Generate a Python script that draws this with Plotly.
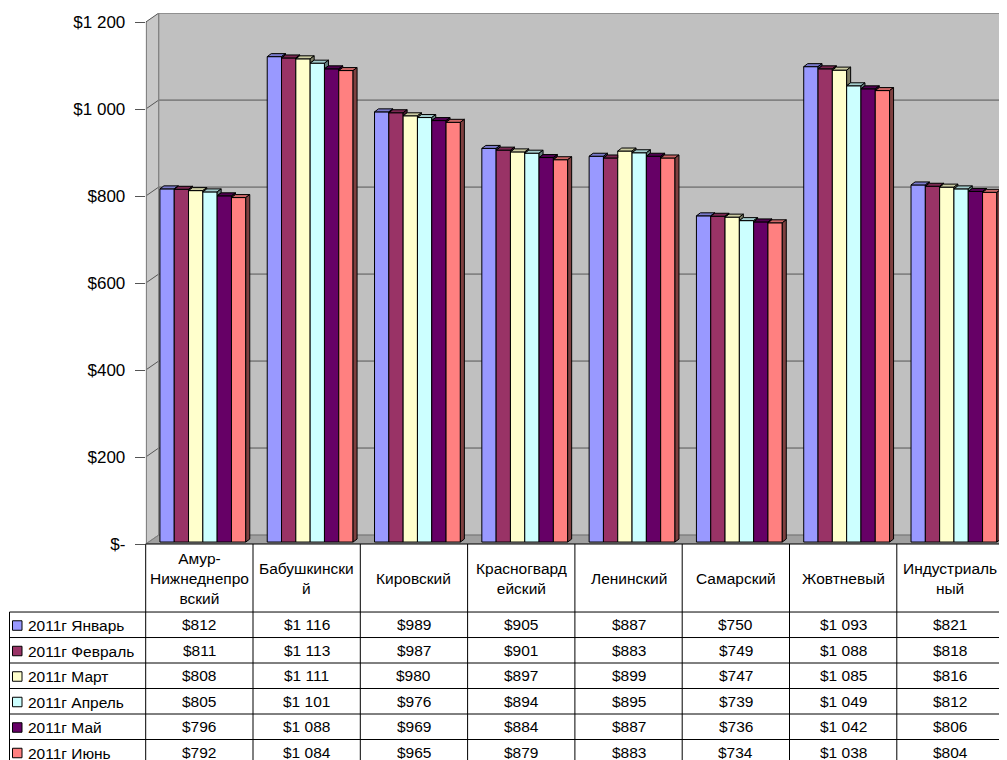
import plotly.graph_objects as go

# ---------------- data ----------------
categories = ["Амур-Нижнеднепровский", "Бабушкинский", "Кировский", "Красногвардейский",
              "Ленинский", "Самарский", "Жовтневый", "Индустриальный"]
header_labels = ["Амур-<br>Нижнеднепро<br>вский", "Бабушкински<br>й", "Кировский",
                 "Красногвард<br>ейский", "Ленинский", "Самарский", "Жовтневый",
                 "Индустриаль<br>ный"]
series_names = ["2011г Январь", "2011г Февраль", "2011г Март",
                "2011г Апрель", "2011г Май", "2011г Июнь"]
jan = [812, 1116, 989, 905, 887, 750, 1093, 821]
feb = [811, 1113, 987, 901, 883, 749, 1088, 818]
mar = [808, 1111, 980, 897, 899, 747, 1085, 816]
apr = [805, 1101, 976, 894, 895, 739, 1049, 812]
may = [796, 1088, 969, 884, 887, 736, 1042, 806]
jun = [792, 1084, 965, 879, 883, 734, 1038, 804]
series_values = [jan, feb, mar, apr, may, jun]
tick_values = [0, 200, 400, 600, 800, 1000, 1200]
tick_labels = ["$-", "$200", "$400", "$600", "$800", "$1 000", "$1 200"]
front_colors = ["#9999FF", "#993366", "#FFFFCC", "#CCFFFF", "#660066", "#FF8080"]

# ---------------- geometry (target picture pixels) ----------------
PAGE_W, PAGE_H = 1007, 760
OFF = 8                         # default body margin of the html page
KY = 760.0 / 770.0              # observed vertical capture scale
W = PAGE_W - OFF
H = int(round(PAGE_H / KY - OFF))
X0, CW = 145.7, 107.3           # front-left edge, category width
Y0, YTOP = 544.0, 13.0          # floor front, wall top
PPU = (Y0 - 22.0) / 1200.0      # px per value unit
FONT = "Liberation Sans, Arial, sans-serif"


def ux(px):
    return px / CW


def uy(px):
    return px / PPU


def PX(px):
    return (px - OFF) / W


def PY(py):
    return 1 - (py / KY - OFF) / H


x_lo, x_hi = -0.5, -0.5 + ux(PAGE_W - X0)
y_lo, y_hi = 0.0, uy(Y0 - YTOP)
DXW, DYW = ux(13), uy(9)       # wall depth
DX0, DY0 = ux(3.5), uy(2)      # bar front offset
DXB, DYB = ux(4), uy(3)        # bar depth
BW = 0.8 / len(series_values)


def shade(hexc, f):
    r, g, b = int(hexc[1:3], 16), int(hexc[3:5], 16), int(hexc[5:7], 16)
    return f"rgb({int(r * f)},{int(g * f)},{int(b * f)})"


def money(v):
    return "$" + f"{v:,}".replace(",", " ")


fig = go.Figure()

ns = len(series_values)
# front faces
for s in range(ns):
    xs = [c + DX0 + (s - (ns - 1) / 2) * BW for c in range(len(categories))]
    fig.add_trace(go.Bar(
        x=xs, y=series_values[s], base=DY0, width=BW, name=series_names[s],
        marker=dict(color=front_colors[s], line=dict(color="black", width=1)),
        showlegend=False,
        customdata=categories,
        hovertemplate="%{customdata}<br>" + series_names[s] + ": $%{y}<extra></extra>",
    ))

# top and side faces
for s in range(ns):
    tx, ty, sx, sy = [], [], [], []
    for c in range(len(categories)):
        xc = c + DX0 + (s - (ns - 1) / 2) * BW
        x0, x1 = xc - BW / 2, xc + BW / 2
        v = series_values[s][c]
        top = DY0 + v
        nxt = series_values[s + 1][c] if s < ns - 1 else None
        if nxt is not None and nxt > v:
            px_ = [x0, x1, x1, x0 + DXB, x0]
        else:
            px_ = [x0, x1, x1 + DXB, x0 + DXB, x0]
        py_ = [top, top, top + DYB, top + DYB, top]
        tx += px_ + [None]
        ty += py_ + [None]
        if nxt is None:
            sx += [x1, x1, x1 + DXB, x1 + DXB, x1, None]
            sy += [DY0, top, top + DYB, DY0 + DYB, DY0, None]
        elif nxt < v:
            tn = DY0 + nxt
            sx += [x1, x1, x1 + DXB, x1 + DXB, x1, None]
            sy += [tn, top, top + DYB, tn + DYB, tn, None]
    fig.add_trace(go.Scatter(x=tx, y=ty, mode="lines", fill="toself",
                             fillcolor=shade(front_colors[s], 0.8),
                             line=dict(color="black", width=1),
                             hoverinfo="skip", showlegend=False))
    if sx:
        fig.add_trace(go.Scatter(x=sx, y=sy, mode="lines", fill="toself",
                                 fillcolor=shade(front_colors[s], 0.5),
                                 line=dict(color="black", width=1),
                                 hoverinfo="skip", showlegend=False))

shapes = []
WALL = "#C0C0C0"
EDGE = "#808080"
GRID = "#555555"
# back wall
shapes.append(dict(type="rect", xref="x", yref="y", x0=-0.5 + DXW, x1=x_hi, y0=DYW, y1=y_hi,
                   fillcolor=WALL, line=dict(width=0), layer="below"))
# left wall
shapes.append(dict(type="path", xref="x", yref="y",
                   path=f"M{-0.5},{0} L{-0.5},{tick_values[-1]} L{-0.5 + DXW},{y_hi} L{-0.5 + DXW},{DYW} Z",
                   fillcolor="#C8C8C8", line=dict(width=0), layer="below"))
# floor
shapes.append(dict(type="path", xref="x", yref="y",
                   path=f"M{-0.5},{0} L{-0.5 + DXW},{DYW} L{x_hi + 1},{DYW} L{x_hi + 1},{0} Z",
                   fillcolor="#A0A0A0", line=dict(color=EDGE, width=1), layer="below"))
# gridlines and diagonals
for v in tick_values:
    col = GRID if 0 < v < tick_values[-1] else EDGE
    shapes.append(dict(type="line", xref="x", yref="y", x0=-0.5 + DXW, x1=x_hi,
                       y0=v + DYW, y1=v + DYW,
                       line=dict(color=col, width=1.3 if v == tick_values[-1] else 1),
                       layer="below"))
    shapes.append(dict(type="line", xref="x", yref="y", x0=-0.5, x1=-0.5 + DXW,
                       y0=v, y1=v + DYW, line=dict(color=GRID if v else EDGE, width=1), layer="below"))
# wall edges
shapes.append(dict(type="line", xref="x", yref="y", x0=-0.5 + DXW, x1=-0.5 + DXW,
                   y0=DYW, y1=y_hi, line=dict(color=EDGE, width=1.3), layer="below"))
shapes.append(dict(type="line", xref="x", yref="y", x0=-0.5 + ux(0.6), x1=-0.5 + ux(0.6),
                   y0=0, y1=tick_values[-1], line=dict(color=EDGE, width=1.3), layer="below"))

# ---------------- data table ----------------
HDR_TOP, HDR_BOT, ROW_H = 544.0, 612.0, 25.5
LEG_L = 9.5
ncol = len(categories)
right = X0 + ncol * CW
TBL = "black"
shapes.append(dict(type="line", xref="paper", yref="paper", x0=PX(X0), x1=PX(right),
                   y0=PY(HDR_TOP), y1=PY(HDR_TOP), line=dict(color=TBL, width=1)))
for k in range(len(series_names) + 1):
    yy = HDR_BOT + k * ROW_H
    shapes.append(dict(type="line", xref="paper", yref="paper", x0=PX(LEG_L), x1=PX(right),
                       y0=PY(yy), y1=PY(yy), line=dict(color=TBL, width=1)))
for c in range(ncol + 1):
    xx = X0 + c * CW
    shapes.append(dict(type="line", xref="paper", yref="paper", x0=PX(xx), x1=PX(xx),
                       y0=PY(HDR_TOP), y1=PY(PAGE_H + 10), line=dict(color=TBL, width=1)))
shapes.append(dict(type="line", xref="paper", yref="paper", x0=PX(LEG_L), x1=PX(LEG_L),
                   y0=PY(HDR_BOT), y1=PY(PAGE_H + 10), line=dict(color=TBL, width=1)))

annotations = []
TFS = 15.5
for c in range(ncol):
    annotations.append(dict(xref="paper", yref="paper", x=PX(X0 + (c + 0.5) * CW),
                            y=PY((HDR_TOP + HDR_BOT) / 2), text=header_labels[c],
                            showarrow=False, xanchor="center", yanchor="middle", align="center",
                            font=dict(family=FONT, size=TFS, color="black")))
for r in range(ns):
    yc = HDR_BOT + (r + 0.5) * ROW_H
    shapes.append(dict(type="rect", xref="paper", yref="paper", x0=PX(12.5), x1=PX(22.0),
                       y0=PY(yc + 5.5), y1=PY(yc - 4.0), fillcolor=front_colors[r],
                       line=dict(color="black", width=1)))
    annotations.append(dict(xref="paper", yref="paper", x=PX(25.5), y=PY(yc + 0.8),
                            text=series_names[r], showarrow=False, xanchor="left",
                            yanchor="middle", font=dict(family=FONT, size=TFS, color="black")))
    for c in range(ncol):
        annotations.append(dict(xref="paper", yref="paper", x=PX(X0 + (c + 0.5) * CW),
                                y=PY(yc), text=money(series_values[r][c]), showarrow=False,
                                xanchor="center", yanchor="middle",
                                font=dict(family=FONT, size=TFS, color="black")))

fig.update_layout(
    width=W, height=H, autosize=False,
    margin=dict(l=0, r=0, t=0, b=0),
    paper_bgcolor="white", plot_bgcolor="white",
    barmode="overlay",
    showlegend=False,
    font=dict(family=FONT, color="black"),
    xaxis=dict(range=[x_lo, x_hi], domain=[PX(X0), 1.0], visible=False, fixedrange=True),
    yaxis=dict(range=[y_lo, y_hi], domain=[PY(Y0), PY(YTOP)],
               tickvals=tick_values, ticktext=tick_labels, ticks="outside", ticklen=10,
               tickcolor=GRID, tickwidth=1, showgrid=False, zeroline=False, showline=False,
               tickfont=dict(family=FONT, size=17, color="black"), ticklabelstandoff=6,
               fixedrange=True),
    shapes=shapes,
    annotations=annotations,
)

fig.write_html("out.html")
